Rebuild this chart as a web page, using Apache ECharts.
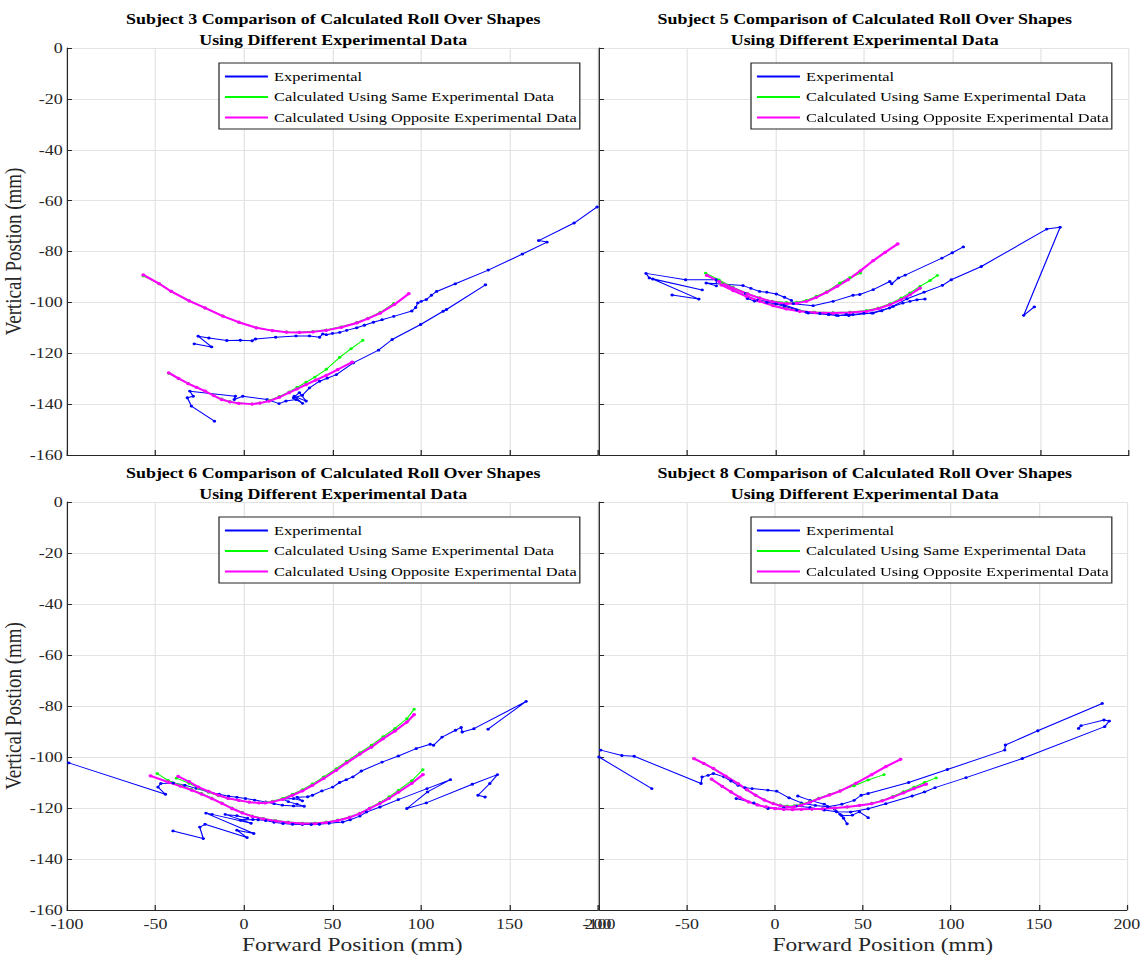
<!DOCTYPE html>
<html>
<head>
<meta charset="utf-8">
<script src="https://cdn.jsdelivr.net/npm/echarts@6/dist/echarts.min.js"></script>
<style>
html,body{margin:0;padding:0;background:#fff;overflow:hidden;}
#chart{position:absolute;left:0;top:0;transform-origin:0 0;}
</style>
</head>
<body>
<div id="chart"></div>
<script>
// ---------------- DATA ----------------
const seriesNames = ['Experimental', 'Calculated Using Same Experimental Data', 'Calculated Using Opposite Experimental Data'];
const subjectTitles = [
  'Subject 3 Comparison of Calculated Roll Over Shapes\nUsing Different Experimental Data',
  'Subject 5 Comparison of Calculated Roll Over Shapes\nUsing Different Experimental Data',
  'Subject 6 Comparison of Calculated Roll Over Shapes\nUsing Different Experimental Data',
  'Subject 8 Comparison of Calculated Roll Over Shapes\nUsing Different Experimental Data'
];
const xAxisName = 'Forward Position (mm)';
const yAxisName = 'Vertical Postion (mm)';
const xTicks = {min: -100, max: 200, interval: 50};
const yTicks = {min: -160, max: 0, interval: 20};

// Subject 3
const s3ExpA = [[-28.1,-116.3],[-18.3,-117.5],[-25.9,-113.3],[-19.8,-114],[-9.7,-115],[-2.1,-114.9],[4.6,-115.1],[6.5,-114.4],[17.9,-113.7],[29.4,-113.2],[37,-113.2],[42.7,-113.7],[44.5,-112.4],[46.5,-112.7],[50,-112.2],[54.1,-111.8],[58,-111],[63.7,-110],[68,-109],[73.1,-107.8],[78,-106.8],[84.6,-105.5],[94.8,-103.4],[97,-102],[98.2,-100.2],[100.1,-99.6],[103,-98.9],[105.9,-97.2],[108.8,-95.7],[119.4,-92.7],[138,-87.3],[157.3,-81],[171.2,-76.3],[166.5,-75.7],[186.5,-68.8],[199.5,-62.5]];
const s3ExpB = [[-16.7,-146.7],[-29.7,-140.8],[-32,-137.5],[-28.7,-136.9],[-30.6,-134.9],[-4.9,-136.9],[-5.5,-138.2],[-0.7,-136.9],[13.1,-138.2],[19.8,-139.8],[23.7,-138.8],[29.4,-138.2],[33.1,-139.7],[28.4,-136.9],[35.1,-138.8],[31.3,-135.5],[28,-137.5],[33,-136.5],[37,-133.6],[42.7,-131],[47,-129.8],[52.2,-128.4],[61.7,-123.8],[76,-118.8],[83.7,-114.6],[99.8,-108.7],[112.5,-103.5],[114.4,-102.8],[136.4,-93.1]];
const s3SameA = [[-56.9,-89.6],[-48,-92.7],[-41.1,-95.7],[-31,-99.3],[-22,-102.2],[-12,-105.3],[-3,-107.8],[7,-110],[16,-111.1],[24,-111.6],[31.3,-111.7],[39,-111.4],[46.5,-110.8],[55,-109.6],[63.7,-107.9],[70,-106.2],[77,-103.9],[84.6,-100.4]];
const s3OppA = [[-56.9,-89.2],[-48,-92.6],[-41.1,-95.7],[-31,-99.4],[-22,-102.2],[-12,-105.4],[-3,-107.8],[7,-110],[16,-111.1],[24,-111.7],[31.3,-111.8],[39,-111.6],[46.5,-111],[55,-109.8],[63.7,-108.1],[70,-106.4],[77,-104.2],[85,-100.8],[93.1,-96.6]];
const s3SameB = [[-42.5,-127.9],[-37,-130],[-31.6,-131.9],[-26.8,-133.4],[-22,-134.9],[-17,-136.6],[-12.6,-138],[-8,-139],[-3,-139.6],[4.6,-139.9],[9,-139.5],[14.1,-138.6],[20,-137],[25.5,-135.2],[30,-133.4],[35.1,-131.4],[40,-129.4],[46.5,-126.3],[54.1,-121.6],[60.5,-118.2],[67.1,-114.9]];
const s3OppB = [[-42.5,-127.7],[-37,-129.9],[-31.6,-131.9],[-26.8,-133.4],[-22,-134.9],[-17,-136.7],[-12.6,-138.2],[-8,-139.1],[-3,-139.7],[4.6,-140],[9,-139.6],[14.1,-138.8],[20,-137.3],[25.5,-135.5],[30,-134],[35.1,-132.3],[40.5,-130.6],[46.5,-128.7],[53,-126.4],[61.1,-123.5]];

// Subject 5
const s5ExpA = [[-58.6,-97.1],[-43.5,-98.7],[-69.6,-90.8],[-41.6,-95.1],[-71.5,-90.4],[-73.4,-88.6],[-51,-91.1],[-33.6,-91.1],[-33.6,-93.5],[-39.3,-92.4],[-18.5,-93.4],[-14,-94.5],[-9.1,-95.7],[-5,-96],[0.4,-96.7],[5,-98],[8.9,-99.2],[10,-100.5],[21.2,-101.3],[32.5,-99.6],[43.8,-97.2],[47.6,-96.9],[55.2,-95],[64.6,-91.8],[65.7,-92.7],[69.5,-90.4],[73.3,-89.3],[94.1,-82.6],[100,-80.5],[106.2,-78.2]];
const s5ExpB = [[-17,-96.5],[-16,-98.5],[-12,-99.5],[-5,-100],[0,-100.6],[5,-101.5],[12,-103],[17.4,-103.9],[25,-104.4],[30,-104.8],[35.4,-105.2],[40,-104.8],[43.8,-104.8],[50,-104.3],[55.2,-104.2],[60,-103.3],[66.5,-101.6],[72,-100.3],[76,-99.6],[80,-99],[84.5,-98.7]];
const s5ExpC = [[-10,-99],[5,-101],[18.4,-104.2],[30,-104.8],[34.4,-105.1],[41.4,-105.2],[54.4,-104.2],[64.4,-102.2],[74.4,-98.6],[84,-96],[94.4,-93.3],[99.4,-91.1],[116.4,-85.9],[153.4,-71.2],[161,-70.5],[140.4,-105.1],[146.4,-101.8]];
const s5SameA = [[-39.7,-88.5],[-32,-91.2],[-24.2,-94],[-16,-96.5],[-9.1,-98.2],[-2,-99.5],[6.1,-100],[12,-99.9],[17.4,-99.2],[23.1,-97.6],[28.8,-95.8],[36.3,-92.4],[42,-90.3],[48,-88.5]];
const s5OppA = [[-39,-89.4],[-32,-91.8],[-24.2,-94.4],[-16,-96.7],[-9.1,-98.3],[-2,-99.7],[6.1,-100.5],[12,-100.3],[17.4,-99.6],[23,-98],[28.8,-96.1],[35,-93.6],[41,-91.1],[48,-87.6],[55.2,-83.6],[62,-80.3],[69.1,-77]];
const s5SameB = [[-30.5,-92.6],[-24,-95.1],[-16.6,-97.4],[-9,-99.4],[-1.5,-101.1],[6,-102.4],[13.6,-103.3],[22,-103.8],[32.5,-104],[42,-103.8],[51.4,-103.2],[58,-102.2],[64.7,-100.5],[71,-98.3],[76,-96.3],[81.7,-93.7],[87.4,-91.4],[91.5,-89.4]];
const s5OppB = [[-30.8,-93.1],[-24,-95.4],[-16.6,-97.6],[-9,-99.6],[-1.5,-101.3],[6,-102.6],[13.6,-103.5],[22,-104],[32.5,-104.2],[42,-104],[51.4,-103.5],[58,-102.5],[64.7,-100.9],[71,-98.9],[76,-97],[81.7,-94.4]];

// Subject 6
const s6ExpA = [[-99,-102.3],[-44.4,-114.6],[-48.6,-111.8],[-47,-110.4],[-40,-110.2],[-33.4,-111.1],[-27,-112.3],[-20.1,-113.7],[-14,-114.6],[-8.7,-115.4],[-4,-115.8],[0.8,-116.3],[6,-116.9],[12.2,-117.6],[17,-118.3],[21.7,-118.9],[28,-119.2],[34,-119.3],[30,-118.5],[25,-117.5],[22,-116.5],[28,-116.3],[33,-117.2],[30,-115.8],[36,-115.6],[38.7,-115],[44,-113.3],[50.1,-111.8],[54,-110],[57.8,-108.9],[61.5,-107.8],[66.3,-105.5],[78,-102],[87.2,-99.6],[97.3,-96.7],[105.2,-95],[107.1,-95.4],[111.9,-92.2],[119.5,-89.5],[122.7,-88.4],[123.3,-90.2],[129.9,-88.9],[159.4,-78.2],[137.9,-89.1]];
const s6ExpB = [[-40.1,-129],[-23,-132],[-25,-127.5],[-22,-126.4],[1.7,-131.6],[-4,-128.7],[5.5,-130],[-21.5,-122],[-18,-122.5],[4,-126],[-10.6,-122.5],[-4,-123],[2,-124],[-2,-124.8],[5,-124.5],[8,-124.6],[12.2,-124.9],[17,-125.6],[22,-126.1],[27.4,-126.4],[33,-126.5],[38,-126.5],[42.6,-126.4],[48,-126],[55.8,-125.5],[60,-124.6],[65.4,-123.2],[69.2,-121.6],[76.8,-119.6],[87.2,-116.7],[103.4,-112.4],[116.6,-108.9],[103.7,-113.7],[92,-120.2],[103,-118],[129,-110.7],[143.2,-106.9],[138.9,-110.4],[132.2,-115],[136.2,-115.7]];
const s6SameA = [[-38.2,-108.3],[-31,-110.3],[-25.8,-112.2],[-20,-113.8],[-14.4,-115.2],[-9,-116.3],[-3,-117.1],[3,-117.7],[8.4,-117.9],[12,-117.8],[16,-117.3],[22,-116.2],[27.4,-114.6],[33,-112.8],[38.7,-110.6],[45,-107.8],[52.1,-104.6],[58,-101.7],[65.4,-98.3],[72,-95.4],[78.6,-92],[85.3,-88.8],[92,-85],[96.1,-81.3]];
const s6OppA = [[-37.2,-107.6],[-31,-109.7],[-25.8,-111.8],[-20,-113.5],[-14.4,-115],[-9,-116.2],[-3,-117],[3,-117.7],[8.4,-118],[12,-118],[16,-117.6],[22,-116.6],[27.4,-115],[33,-113.3],[38.7,-111.1],[45,-108.4],[52.1,-105.2],[58,-102.3],[65.4,-98.9],[72,-96.1],[78.6,-92.8],[85.3,-89.8],[92,-86.3],[96.1,-83.4]];
const s6SameB = [[-49,-106.5],[-42.9,-109.2],[-36,-111],[-29.6,-112.7],[-24,-114.3],[-18.2,-116.1],[-12.5,-118],[-6.8,-120],[-1,-121.7],[4.6,-123.1],[11,-124.1],[17.9,-124.9],[25,-125.5],[33,-125.9],[40,-125.9],[46.4,-125.5],[53,-124.7],[59.7,-123.5],[65.4,-122],[71,-120],[76.8,-117.8],[82,-115.6],[87.2,-113.1],[94.8,-109.3],[101,-105]];
const s6OppB = [[-52.8,-107.4],[-42.9,-109.8],[-36,-111.4],[-29.6,-113],[-24,-114.6],[-18.2,-116.3],[-12.5,-118.2],[-6.8,-120.2],[-1,-121.9],[4.6,-123.3],[11,-124.3],[17.9,-125.1],[25,-125.7],[33,-126.1],[40,-126.1],[46.4,-125.7],[53,-124.9],[59.7,-123.7],[65.4,-122.2],[71,-120.2],[76.8,-118.2],[82,-116.2],[87.2,-113.8],[94.8,-110.3],[101.1,-106.9]];

// Subject 8
const s8ExpA = [[-99,-97.3],[-87,-99.4],[-80,-99.7],[-42,-110.4],[-41.4,-107.8],[-38,-107.2],[-35,-106.5],[-29,-107.8],[-25,-109.4],[-21,-111.1],[-17,-112],[-13,-112.4],[-4,-113],[1,-113.4],[8,-116],[15,-118],[23,-119],[30,-119.5],[38,-118.5],[45,-117],[49,-115],[53,-114.3],[76,-110],[98,-104.9],[130.6,-97.3],[131,-95.3],[149.4,-89.7],[186,-79]];
const s8ExpB = [[-100,-100],[-70,-112.4]];
const s8ExpC = [[-22,-116.3],[-12,-118],[-4,-120.2],[5,-120],[12,-119.2],[20,-119.8],[28,-120.8],[35,-121.5],[43,-121.6],[53,-120.3],[63,-118.3],[78,-115.3],[85,-113.7],[91,-112],[108.6,-108.1],[140.6,-100.6],[187.4,-88.1],[190,-85.9],[187,-85.5],[174,-87.7],[172.6,-88.8]];
const s8ExpD = [[13,-115.3],[20,-117],[28,-118.5],[34,-120.5],[37,-122.5],[39,-124],[41,-126.2],[38,-123],[44,-122.8],[48,-121.5],[53,-123.8]];
const s8SameA = [[-46,-100.6],[-40.5,-102.6],[-35,-104.6],[-28,-107.6],[-21,-110.5],[-16,-112.9],[-11,-115],[-6,-116.8],[-1,-118.1],[3,-118.8],[7,-119.2],[11,-119.1],[15,-118.5],[20,-117.4],[25,-116.1],[31,-114.7],[37,-113.2],[45,-111.3],[53,-109],[62,-106.9]];
const s8OppA = [[-46,-100.6],[-40.5,-102.5],[-35,-104.5],[-28,-107.5],[-21,-110.4],[-16,-112.8],[-11,-115],[-6,-116.9],[-1,-118.3],[3,-119.1],[7,-119.6],[11,-119.5],[15,-118.9],[20,-117.7],[25,-116.3],[31,-114.9],[37,-113.4],[46,-110.3],[55,-106.9],[63,-103.8],[71.4,-100.9]];
const s8SameB = [[-36,-108.7],[-30,-111.5],[-25,-113.7],[-20,-115.8],[-15,-117.6],[-10,-118.8],[-5,-119.6],[0,-120.2],[5,-120.5],[10,-120.6],[15,-120.5],[21,-120.4],[27,-120.3],[34,-120],[41,-119.6],[48,-119],[55,-118.1],[61,-117],[67,-115.5],[73,-113.6],[79,-111.8],[85,-110],[91.6,-108.2]];
const s8OppB = [[-36,-108.7],[-30,-111.5],[-25,-113.7],[-20,-115.8],[-15,-117.6],[-10,-118.8],[-5,-119.6],[0,-120.2],[5,-120.5],[10,-120.6],[15,-120.5],[21,-120.4],[27,-120.3],[34,-120],[41,-119.6],[48,-119],[55,-118.3],[61,-117.2],[67,-115.7],[73,-114.1],[79,-112.4],[86,-110.6]];

const panels = [
  {exp: [s3ExpA, s3ExpB], same: [s3SameA, s3SameB], opp: [s3OppA, s3OppB]},
  {exp: [s5ExpA, s5ExpB, s5ExpC], same: [s5SameA, s5SameB], opp: [s5OppA, s5OppB]},
  {exp: [s6ExpA, s6ExpB], same: [s6SameA, s6SameB], opp: [s6OppA, s6OppB]},
  {exp: [s8ExpA, s8ExpB, s8ExpC, s8ExpD], same: [s8SameA, s8SameB], opp: [s8OppA, s8OppB]}
];

// ---------------- LAYOUT / STYLE ----------------
const S = 1.237;             // horizontal stretch of the reference picture
const W = 1144, H = 964;
const X = v => v / S;
const FONT = 'Liberation Serif';
const AX = '#262626';
const colors = ['#0000ff', '#00ff00', '#ff00ff'];

const gridPx = [
  {l: 67, t: 48, w: 531, h: 407},
  {l: 599, t: 48, w: 530, h: 407},
  {l: 67, t: 502, w: 531, h: 408},
  {l: 599, t: 502, w: 530, h: 408}
];

const el = document.getElementById('chart');
el.style.width = X(W) + 'px';
el.style.height = H + 'px';
el.style.transform = 'scaleX(' + S + ')';

const chart = echarts.init(el, null, {renderer: 'svg', width: X(W), height: H});

const option = {
  animation: false,
  backgroundColor: '#fff',
  title: [], legend: [], grid: [], xAxis: [], yAxis: [], series: []
};

gridPx.forEach((g, i) => {
  const isLeft = (i % 2 === 0);
  const isBottom = (i >= 2);
  option.grid.push({left: X(g.l), top: g.t, width: X(g.w), height: g.h, containLabel: false});
  option.title.push({
    text: subjectTitles[i],
    left: X(g.l + g.w / 2 - 5.5), top: g.t - 44, textAlign: 'center',
    textStyle: {fontFamily: FONT, fontWeight: 'bold', fontSize: 14.5, lineHeight: 21, color: '#000'}
  });
  option.legend.push({
    data: seriesNames,
    orient: 'vertical',
    left: X(g.l + 152), top: g.t + 15,
    padding: [6, 2.5, 4, 4.8],
    itemGap: 5.5,
    itemWidth: X(43), itemHeight: 2,
    icon: 'rect',
    borderColor: AX, borderWidth: 1, backgroundColor: '#fff',
    textStyle: {fontFamily: FONT, fontSize: 13.2, lineHeight: 15, color: '#000'},
    selectedMode: false
  });
  option.xAxis.push({
    type: 'value', gridIndex: i,
    min: xTicks.min, max: xTicks.max, interval: xTicks.interval,
    name: isBottom ? xAxisName : '',
    nameLocation: 'middle', nameGap: 25,
    nameTextStyle: {fontFamily: FONT, fontSize: 19, color: AX, padding: [0, 0, 0, 32]},
    axisLine: {show: true, onZero: false, lineStyle: {color: AX, width: 1}},
    axisTick: {show: true, inside: true, length: 5, lineStyle: {color: AX}},
    axisLabel: {show: isBottom, margin: 7, fontFamily: FONT, fontSize: 14.5, color: AX, showMinLabel: true, showMaxLabel: true},
    splitLine: {show: true, lineStyle: {color: '#e3e3e3', width: 1}}
  });
  option.yAxis.push({
    type: 'value', gridIndex: i,
    min: yTicks.min, max: yTicks.max, interval: yTicks.interval,
    name: isLeft ? yAxisName : '',
    nameLocation: 'middle', nameGap: 24,
    nameTextStyle: {fontFamily: FONT, fontSize: 19, color: AX},
    axisLine: {show: true, onZero: false, lineStyle: {color: AX, width: 1}},
    axisTick: {show: true, inside: true, length: 4, lineStyle: {color: AX}},
    axisLabel: {show: isLeft, margin: 3.5, fontFamily: FONT, fontSize: 14.5, color: AX, showMinLabel: true, showMaxLabel: true},
    splitLine: {show: true, lineStyle: {color: '#e3e3e3', width: 1}}
  });

  const p = panels[i];
  const groups = [
    {list: p.exp, name: seriesNames[0], color: colors[0], w: 1, sym: 2.8},
    {list: p.same, name: seriesNames[1], color: colors[1], w: 1, sym: 2.8},
    {list: p.opp, name: seriesNames[2], color: colors[2], w: 2, sym: 3.2}
  ];
  groups.forEach(gr => {
    gr.list.forEach(arr => {
      option.series.push({
        type: 'line', name: gr.name,
        xAxisIndex: i, yAxisIndex: i,
        data: arr,
        symbol: 'circle', symbolSize: gr.sym, showSymbol: true,
        itemStyle: {color: gr.color},
        lineStyle: {color: gr.color, width: gr.w},
        clip: true, silent: true
      });
    });
  });
});

chart.setOption(option);
</script>
</body>
</html>
